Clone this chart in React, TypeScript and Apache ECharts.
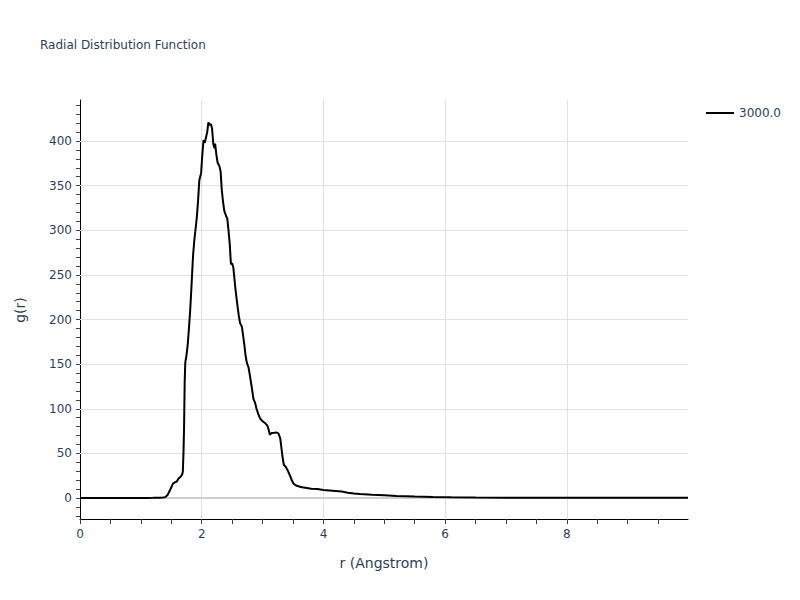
import React, { useEffect, useRef } from "react";
import * as echarts from "echarts";

const seriesName = "3000.0";
const rValues = [
  0, 0.5, 1.0, 1.1, 1.2, 1.3, 1.36, 1.4, 1.44, 1.48, 1.5, 1.53, 1.56, 1.59, 1.62, 1.65, 1.68, 1.69, 1.7, 1.71,
  1.72, 1.73, 1.75, 1.77, 1.79, 1.81, 1.83, 1.85, 1.86, 1.88, 1.9, 1.92, 1.94, 1.96, 1.99, 2.01, 2.03, 2.05,
  2.07, 2.09, 2.11, 2.13, 2.15, 2.17, 2.19, 2.21, 2.22, 2.24, 2.26, 2.29, 2.31, 2.33, 2.35, 2.37, 2.4, 2.42,
  2.44, 2.46, 2.48, 2.5, 2.52, 2.55, 2.57, 2.59, 2.61, 2.63, 2.66, 2.68, 2.7, 2.72, 2.74, 2.77, 2.79, 2.82,
  2.85, 2.88, 2.9, 2.93, 2.96, 3.0, 3.04, 3.07, 3.09, 3.12, 3.15, 3.18, 3.22, 3.26, 3.29, 3.31, 3.33, 3.35,
  3.38, 3.42, 3.45, 3.48, 3.51, 3.55, 3.6, 3.65, 3.7, 3.8, 3.9, 4.0, 4.1, 4.2, 4.3, 4.4, 4.5, 4.6, 4.8, 5.0,
  5.2, 5.5, 5.8, 6.1, 6.5, 7.0, 7.5, 8.0, 8.5, 9.0, 9.5, 9.99,
];
const gValues = [
  0, 0, 0, 0.1, 0.2, 0.4, 0.6, 1.0, 3.5, 9, 12, 16.5, 17.5, 18.5, 22, 23.5, 26.5, 30, 50, 80,
  130, 152, 160, 172, 190, 210, 235, 262, 274, 290, 302, 315, 333, 356, 364, 385, 401, 398,
  404, 410, 421, 418, 419, 414, 397, 392, 397, 385, 376, 372, 366, 345, 332, 322, 316, 313,
  300, 285, 262, 263, 258, 237, 225, 214, 204, 196, 192, 182, 172, 160, 152, 146, 138, 125,
  111, 106, 100, 94, 89, 86, 84, 82, 79, 71, 73, 73, 73.5, 72.5, 67, 56, 45, 37,
  35, 30, 25, 20, 16, 14, 13, 12, 11.5, 10.5, 10, 9, 8.5, 8, 7.3, 6, 5, 4.4, 3.6, 3,
  2.4, 1.6, 1.1, 0.8, 0.6, 0.4, 0.3, 0.25, 0.2, 0.2, 0.2, 0.2,
];

const xTickLabels = [0, 2, 4, 6, 8];
const xMinorTicks = [0, 0.5, 1, 1.5, 2, 2.5, 3, 3.5, 4, 4.5, 5, 5.5, 6, 6.5, 7, 7.5, 8, 8.5, 9, 9.5];
const yTickLabels = [0, 50, 100, 150, 200, 250, 300, 350, 400];
const yMinorTicks = [
  -20, -10, 0, 10, 20, 30, 40, 50, 60, 70, 80, 90, 100, 110, 120, 130, 140, 150, 160, 170, 180, 190, 200,
  210, 220, 230, 240, 250, 260, 270, 280, 290, 300, 310, 320, 330, 340, 350, 360, 370, 380, 390, 400, 410,
  420, 430, 440,
];

const textColor = "#2a3f5f";
const gridColor = "#e1e1e1";
const font = "'DejaVu Sans', Verdana, sans-serif";

export default function App() {
  const ref = useRef<HTMLDivElement>(null);
  useEffect(() => {
    if (!ref.current) return;
    const chart = echarts.init(ref.current, undefined, { renderer: "svg" });
    const data = rValues.map((r, i) => [r, gValues[i]]);
    const gridLines = [
      ...xTickLabels.filter((v) => v !== 0).map((v) => ({ xAxis: v })),
      ...yTickLabels.filter((v) => v !== 0).map((v) => ({ yAxis: v })),
    ];
    chart.setOption({
      animation: false,
      textStyle: { fontFamily: font },
      grid: { left: 80, right: 112, top: 100, bottom: 81 },
      xAxis: {
        type: "value",
        min: 0,
        max: 9.99,
        axisLine: { show: true, onZero: false, lineStyle: { color: "#000", width: 1 } },
        axisTick: { show: true, customValues: xMinorTicks, length: 5, lineStyle: { color: "#444" } },
        axisLabel: { customValues: xTickLabels, color: textColor, fontSize: 12, margin: 9, fontFamily: font },
        splitLine: { show: false },
      },
      yAxis: {
        type: "value",
        min: -23.5,
        max: 446,
        axisLine: { show: true, onZero: false, lineStyle: { color: "#000", width: 1 } },
        axisTick: { show: true, customValues: yMinorTicks, length: 4, lineStyle: { color: "#444" } },
        axisLabel: { customValues: yTickLabels, color: textColor, fontSize: 12, margin: 8, fontFamily: font },
        splitLine: { show: false },
      },
      legend: {
        data: [{ name: seriesName, icon: "rect" }],
        left: 706,
        top: 107,
        padding: 0,
        itemWidth: 28,
        itemHeight: 2,
        itemGap: 6,
        itemStyle: { color: "#000" },
        textStyle: { color: textColor, fontSize: 12, fontFamily: font },
      },
      graphic: [
        {
          type: "text",
          left: 40,
          top: 39,
          style: { text: "Radial Distribution Function", fill: textColor, fontSize: 12, fontFamily: font },
        },
        {
          type: "text",
          x: 384,
          y: 563,
          style: { text: "r (Angstrom)", fill: textColor, fontSize: 14, align: "center", verticalAlign: "middle", fontFamily: font },
        },
        {
          type: "text",
          x: 20,
          y: 310,
          rotation: Math.PI / 2,
          style: { text: "g(r)", fill: textColor, fontSize: 14, align: "center", verticalAlign: "middle", fontFamily: font },
        },
      ],
      series: [
        {
          name: "grid",
          type: "line",
          data: [],
          z: 1,
          silent: true,
          markLine: {
            silent: true,
            z: 1,
            symbol: "none",
            label: { show: false },
            lineStyle: { color: gridColor, type: "solid", width: 1 },
            data: gridLines,
          },
        },
        {
          name: "zero",
          type: "line",
          data: [],
          z: 1,
          silent: true,
          markLine: {
            silent: true,
            z: 1,
            symbol: "none",
            label: { show: false },
            lineStyle: { color: "#cfcfcf", type: "solid", width: 2 },
            data: [{ yAxis: 0 }],
          },
        },
        {
          name: seriesName,
          type: "line",
          data,
          z: 3,
          showSymbol: false,
          symbol: "none",
          lineStyle: { color: "#000", width: 2 },
          itemStyle: { color: "#000" },
        },
      ],
    });
    return () => chart.dispose();
  }, []);
  return <div ref={ref} style={{ width: 800, height: 600, position: "absolute", left: 0, top: 0 }} />;
}
